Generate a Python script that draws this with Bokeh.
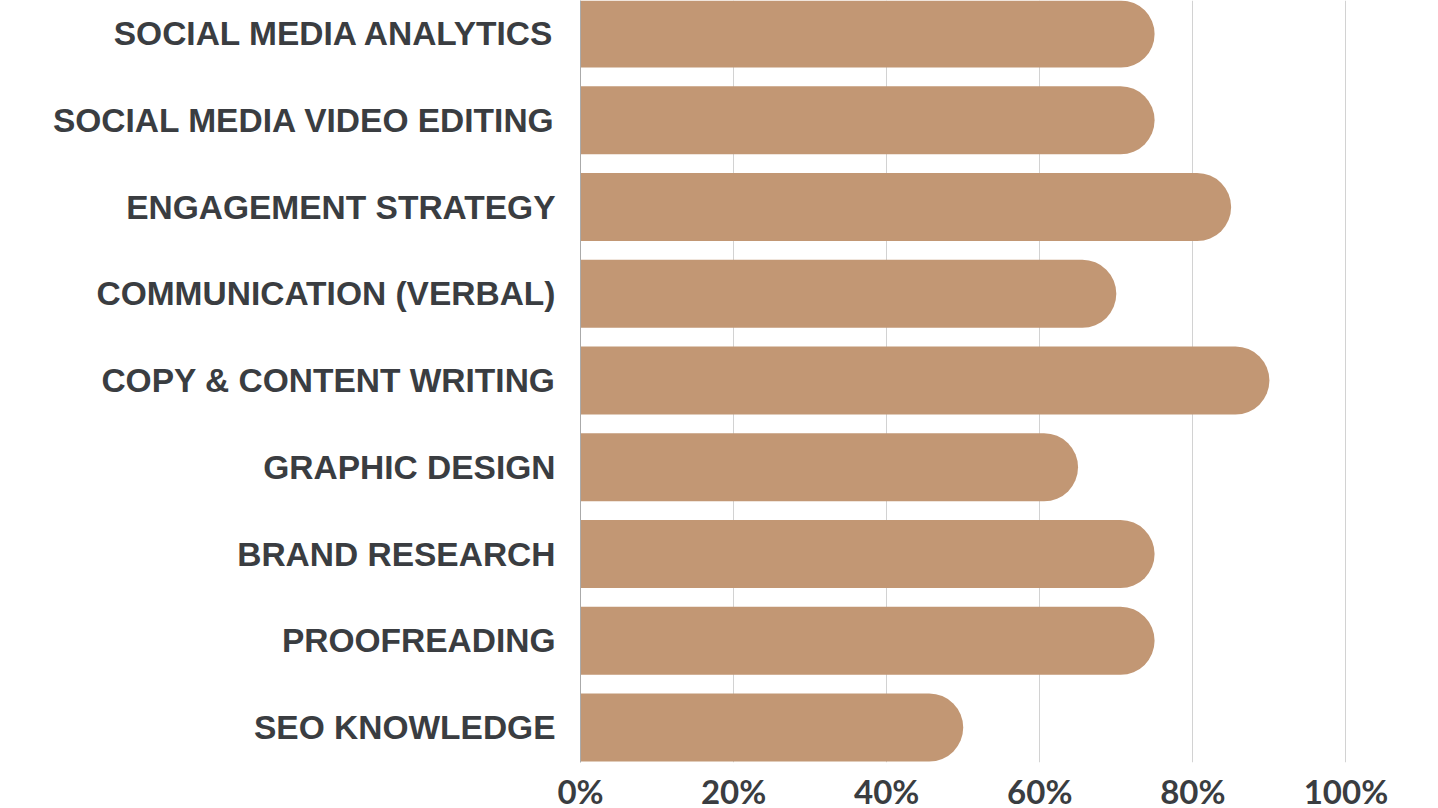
from bokeh.plotting import figure
from bokeh.models import Range1d, FixedTicker, PrintfTickFormatter, ColumnDataSource
from bokeh.embed import file_html
from bokeh.resources import INLINE

# Data (top to bottom as in the chart)
skills = [
    "SOCIAL MEDIA ANALYTICS",
    "SOCIAL MEDIA VIDEO EDITING",
    "ENGAGEMENT STRATEGY",
    "COMMUNICATION (VERBAL)",
    "COPY & CONTENT WRITING",
    "GRAPHIC DESIGN",
    "BRAND RESEARCH",
    "PROOFREADING",
    "SEO KNOWLEDGE",
]
levels = [75, 75, 85, 70, 90, 65, 75, 75, 50]
x_ticks = [0, 20, 40, 60, 80, 100]

n = len(skills)
ypos = [n - 1 - i for i in range(n)]
src = ColumnDataSource(dict(y=ypos, right=levels, left=[0] * n, name=skills))

BAR = "#C29774"
TXT = "#3A3D41"
FONT = "Liberation Sans"

p = figure(
    output_backend="svg", toolbar_location=None,
    frame_width=842, frame_height=762,
    min_border_left=580, min_border_right=0, min_border_top=0, min_border_bottom=44,
    x_range=Range1d(0, 110), y_range=Range1d(-0.403, 8.381),
    background_fill_color="white", border_fill_color="white",
)
p.outline_line_color = None

p.hbar(y="y", left="left", right="right", height=0.785, source=src,
       fill_color=BAR, line_color=None, border_radius=(0, 34, 34, 0))

# grid
p.xgrid.ticker = FixedTicker(ticks=x_ticks)
p.xgrid.grid_line_color = "#D2D2D2"
p.xgrid.grid_line_width = 1
p.ygrid.grid_line_color = None

# x axis
xa = p.xaxis[0]
xa.ticker = FixedTicker(ticks=x_ticks)
xa.formatter = PrintfTickFormatter(format="%d%%")
xa.axis_line_color = None
xa.major_tick_line_color = None
xa.minor_tick_line_color = None
xa.major_label_text_font = "Lato"
xa.major_label_text_font_style = "bold"
xa.major_label_text_font_size = "33px"
xa.major_label_text_color = TXT
xa.major_label_standoff = 2

# y axis
ya = p.yaxis[0]
ya.ticker = FixedTicker(ticks=ypos)
ya.major_label_overrides = {yy: s for yy, s in zip(ypos, skills)}
ya.axis_line_color = "#AAAAAA"
ya.axis_line_width = 1
ya.major_tick_line_color = None
ya.minor_tick_line_color = None
ya.major_label_text_font = FONT
ya.major_label_text_font_style = "bold"
ya.major_label_text_font_size = "33.5px"
ya.major_label_text_color = TXT
ya.major_label_standoff = 19

open("out.html", "w").write(file_html(p, INLINE))
